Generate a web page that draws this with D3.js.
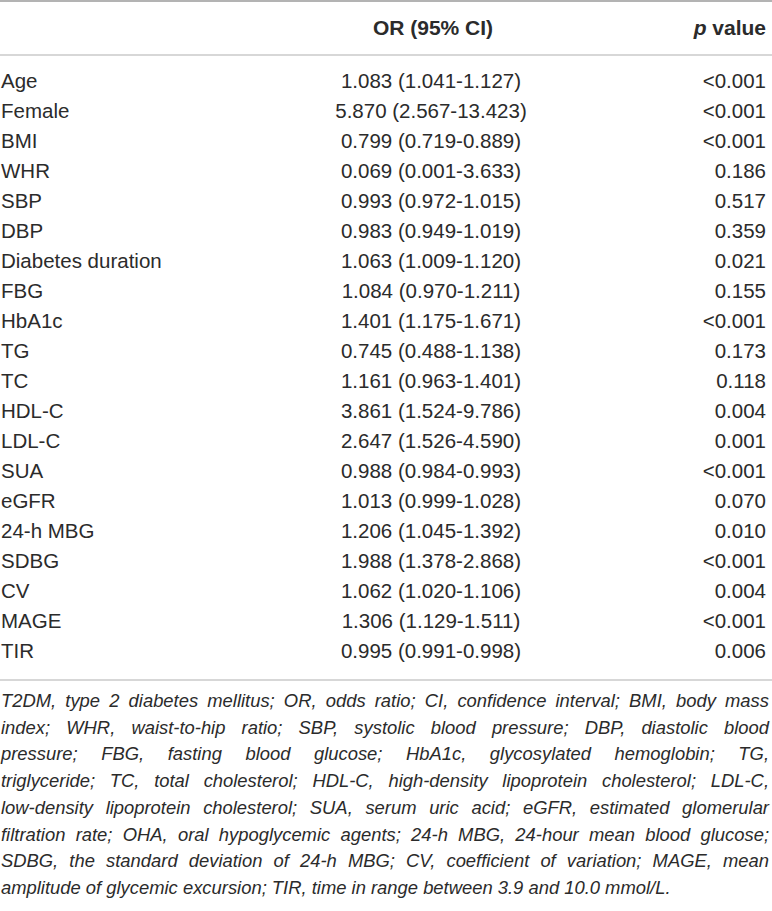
<!DOCTYPE html>
<html>
<head>
<meta charset="utf-8">
<script src="https://cdn.jsdelivr.net/npm/d3@7"></script>
<style>
    body { margin: 0; background: #fff; }
    svg { display: block; }
    text { font-family: "Liberation Sans", Arial, sans-serif; fill: #2b2b2b; }
</style>
</head>
<body>
<script>
const variables = ["Age", "Female", "BMI", "WHR", "SBP", "DBP", "Diabetes duration", "FBG", "HbA1c", "TG",
    "TC", "HDL-C", "LDL-C", "SUA", "eGFR", "24-h MBG", "SDBG", "CV", "MAGE", "TIR"];
const orEst = [1.083, 5.870, 0.799, 0.069, 0.993, 0.983, 1.063, 1.084, 1.401, 0.745,
    1.161, 3.861, 2.647, 0.988, 1.013, 1.206, 1.988, 1.062, 1.306, 0.995];
const ciLow = [1.041, 2.567, 0.719, 0.001, 0.972, 0.949, 1.009, 0.970, 1.175, 0.488,
    0.963, 1.524, 1.526, 0.984, 0.999, 1.045, 1.378, 1.020, 1.129, 0.991];
const ciHigh = [1.127, 13.423, 0.889, 3.633, 1.015, 1.019, 1.120, 1.211, 1.671, 1.138,
    1.401, 9.786, 4.590, 0.993, 1.028, 1.392, 2.868, 1.106, 1.511, 0.998];
const pValues = ["<0.001", "<0.001", "<0.001", "0.186", "0.517", "0.359", "0.021", "0.155", "<0.001", "0.173",
    "0.118", "0.004", "0.001", "<0.001", "0.070", "0.010", "<0.001", "0.004", "<0.001", "0.006"];
const footnoteLines = [
    "T2DM, type 2 diabetes mellitus; OR, odds ratio; CI, confidence interval; BMI, body mass",
    "index; WHR, waist-to-hip ratio; SBP, systolic blood pressure; DBP, diastolic blood",
    "pressure; FBG, fasting blood glucose; HbA1c, glycosylated hemoglobin; TG,",
    "triglyceride; TC, total cholesterol; HDL-C, high-density lipoprotein cholesterol; LDL-C,",
    "low-density lipoprotein cholesterol; SUA, serum uric acid; eGFR, estimated glomerular",
    "filtration rate; OHA, oral hypoglycemic agents; 24-h MBG, 24-hour mean blood glucose;",
    "SDBG, the standard deviation of 24-h MBG; CV, coefficient of variation; MAGE, mean",
    "amplitude of glycemic excursion; TIR, time in range between 3.9 and 10.0 mmol/L."
];

const width = 772, height = 911;
const fmt = d3.format(".3f");

let rows = variables.map((v, i) => ({
    name: v,
    or: `${fmt(orEst[i])} (${fmt(ciLow[i])}-${fmt(ciHigh[i])})`,
    p: pValues[i]
}));

let svg = d3.select("body")
    .append("svg")
    .attr("width", width)
    .attr("height", height);

// row baselines
let y = d3.scalePoint()
    .domain(variables)
    .range([88, 658]);

let colOR = 431, colP = 766;

// rules
svg.append("line")
    .attr("x1", 0).attr("x2", width)
    .attr("y1", 1).attr("y2", 1)
    .style("stroke", "#9a9a9a")
    .style("stroke-width", 1.6);

svg.append("line")
    .attr("x1", 0).attr("x2", width)
    .attr("y1", 55).attr("y2", 55)
    .style("stroke", "#b0b0b0")
    .style("stroke-width", 1.2);

svg.append("line")
    .attr("x1", 0).attr("x2", width)
    .attr("y1", 680).attr("y2", 680)
    .style("stroke", "#b0b0b0")
    .style("stroke-width", 1.2);

// header
svg.append("text")
    .attr("x", colOR + 2)
    .attr("y", 35)
    .attr("text-anchor", "middle")
    .style("font-size", "21px")
    .style("font-weight", "bold")
    .text("OR (95% CI)");

let pHead = svg.append("text")
    .attr("x", colP)
    .attr("y", 35)
    .attr("text-anchor", "end")
    .style("font-size", "21px")
    .style("font-weight", "bold");
pHead.append("tspan").style("font-style", "italic").text("p");
pHead.append("tspan").text(" value");

// body rows
let row = svg.selectAll(".row")
    .data(rows)
    .enter()
    .append("g")
    .attr("class", "row")
    .attr("transform", d => `translate(0,${y(d.name)})`);

row.append("text")
    .attr("x", 1)
    .style("font-size", "20.5px")
    .text(d => d.name);

row.append("text")
    .attr("x", colOR)
    .attr("text-anchor", "middle")
    .style("font-size", "20.5px")
    .text(d => d.or);

row.append("text")
    .attr("x", colP)
    .attr("text-anchor", "end")
    .style("font-size", "20.5px")
    .text(d => d.p);

// footnote, justified between left and right edge
let noteLeft = 1, noteRight = 769;
let noteY = d3.scaleLinear()
    .domain([0, footnoteLines.length - 1])
    .range([707, 894]);

footnoteLines.forEach(function (line, i) {
    let words = line.split(" ");
    let t = svg.append("text")
        .attr("y", noteY(i))
        .style("font-size", "18.4px")
        .style("font-style", "italic");
    let spans = words.map(w => t.append("tspan").text(w));
    let widths = spans.map(s => s.node().getComputedTextLength());
    let total = d3.sum(widths);
    let last = i === footnoteLines.length - 1;
    let gap = last ? 5.1 : (noteRight - noteLeft - total) / (words.length - 1);
    let x = noteLeft;
    spans.forEach(function (s, k) {
        s.attr("x", x);
        x += widths[k] + gap;
    });
});
</script>
</body>
</html>
